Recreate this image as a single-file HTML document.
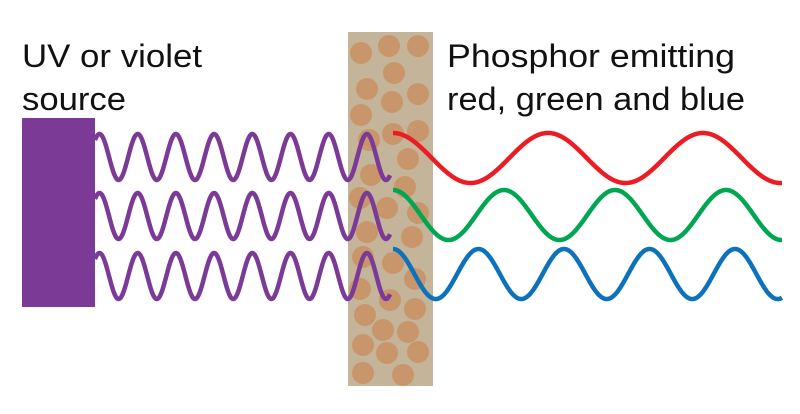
<!DOCTYPE html>
<html><head><meta charset="utf-8"><style>html,body{margin:0;padding:0;background:#fff;width:800px;height:414px;overflow:hidden}</style></head>
<body>
<svg id="s" width="800" height="414" viewBox="0 0 800 414" xmlns="http://www.w3.org/2000/svg">
<rect x="348" y="32" width="85" height="354" fill="#c4b49a"/>
<g fill="#c8966a" id="dots"></g>
<rect x="22" y="118" width="73" height="189" fill="#7b3a96"/>
<g id="waves" fill="none" stroke-width="4.5" stroke-linecap="butt"></g>
<g font-family="Liberation Sans, sans-serif" font-size="32" fill="#111">
<text x="22" y="67" textLength="180" lengthAdjust="spacingAndGlyphs">UV or violet</text>
<text x="22" y="110" textLength="104" lengthAdjust="spacingAndGlyphs">source</text>
<text x="447" y="67" textLength="288" lengthAdjust="spacingAndGlyphs">Phosphor emitting</text>
<text x="447" y="110" textLength="298" lengthAdjust="spacingAndGlyphs">red, green and blue</text>
</g>
</svg>
<script>
var NS="http://www.w3.org/2000/svg";
var d=[[361,53],[389,46],[418,46],[394,73],[367,89],[418,94],[392,102],[361,115],[418,131],[393,134],[369,140],[408,159],[371,175],[405,187],[360,198],[387,208],[418,213],[367,232],[412,237],[363,257],[393,263],[415,279],[360,289],[390,300],[415,309],[365,315],[383,330],[408,332],[363,345],[387,353],[418,352],[363,373],[403,375]];
var g=document.getElementById("dots");
d.forEach(function(p){var c=document.createElementNS(NS,"circle");c.setAttribute("cx",p[0]);c.setAttribute("cy",p[1]);c.setAttribute("r",11);g.appendChild(c);});
var w=document.getElementById("waves");
function wave(x0,x1,xp,per,c,A,col){var s="";for(var x=x0;x<=x1;x+=0.5){var y=c-A*Math.cos(2*Math.PI*(x-xp)/per);s+=(s?"L":"M")+x.toFixed(1)+","+y.toFixed(2);}
var p=document.createElementNS(NS,"path");p.setAttribute("d",s);p.setAttribute("stroke",col);w.appendChild(p);}
[157,216,276].forEach(function(c){wave(95,390,99.5,38.2,c,23,"#7b3a96");});
wave(393,782,393,155,158,25,"#ec1c24");
wave(393,782,393,111,215,25,"#00a651");
wave(393,782,393,85.5,274,25,"#0d72ba");
</script>
</body></html>
